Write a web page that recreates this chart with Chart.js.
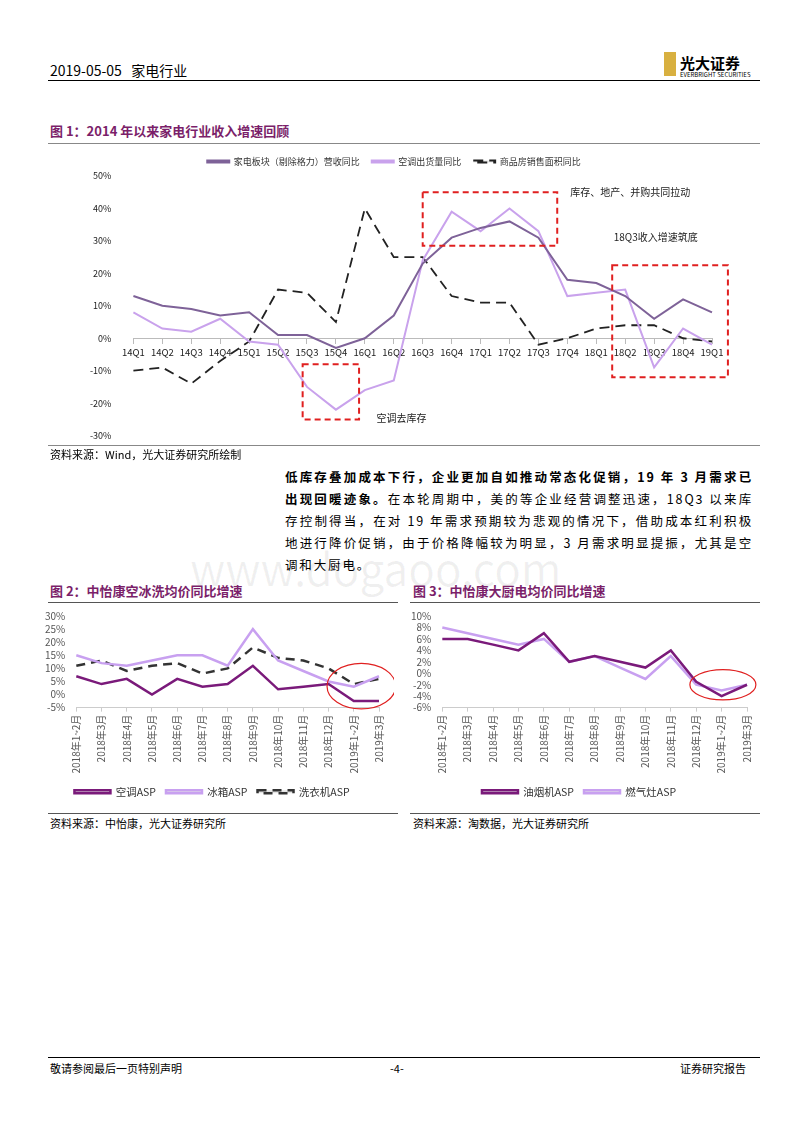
<!DOCTYPE html>
<html><head><meta charset="utf-8">
<script src="https://cdn.jsdelivr.net/npm/chart.js@4"></script>
<style>
body{margin:0;width:800px;height:1132px;position:relative;font-family:"Noto Sans CJK SC","Noto Sans",sans-serif;background:#fff;color:#000}
.a{position:absolute;white-space:nowrap}
.hr{position:absolute;height:0;border-top:1px solid #333}
.t{color:#7B1F6A;font-weight:bold;font-size:13px}
.src{font-size:11px}
.p{font-size:12.5px;line-height:22px;letter-spacing:1.85px}
</style></head><body>
<div class="a" style="left:50px;top:60px;font-size:14px">2019-05-05&nbsp;&nbsp;&nbsp;家电行业</div>
<div class="a" style="left:664px;top:52px;width:12px;height:24px;background:#d8b040"></div>
<div class="a" style="left:680px;top:52px;font-size:15px;font-weight:bold">光大证券</div>
<div class="a" style="left:680px;top:70px;font-size:6px">EVERBRIGHT SECURITIES</div>
<div class="hr" style="left:48px;top:80px;width:712px;border-top:1px solid #000"></div>
<div class="a t" style="left:50px;top:121px">图 1：2014 年以来家电行业收入增速回顾</div>
<div class="hr" style="left:48px;top:143px;width:712px;border-color:#888"></div>
<div class="hr" style="left:48px;top:445px;width:712px;border-color:#888"></div>
<div class="a" style="left:50px;top:145px;width:710px;height:310px"><canvas id="c1"></canvas></div>
<div class="a src" style="left:50px;top:446px">资料来源：Wind，光大证券研究所绘制</div>
<div class="a p" style="left:285px;top:466px;width:468px;white-space:normal;text-align:justify"><b>低库存叠加成本下行，企业更加自如推动常态化促销，19 年 3 月需求已出现回暖迹象。</b>在本轮周期中，美的等企业经营调整迅速，18Q3 以来库存控制得当，在对 19 年需求预期较为悲观的情况下，借助成本红利积极地进行降价促销，由于价格降幅较为明显，3 月需求明显提振，尤其是空调和大厨电。</div>
<div class="a" style="left:190px;top:535px;font-size:44px;color:rgba(0,0,0,0.06)">www.dogaoo.com</div>
<div class="a t" style="left:50px;top:581px">图 2：中怡康空冰洗均价同比增速</div>
<div class="a t" style="left:413px;top:581px">图 3：中怡康大厨电均价同比增速</div>
<div class="hr" style="left:48px;top:602px;width:350px;border-color:#555"></div>
<div class="hr" style="left:410px;top:602px;width:350px;border-color:#555"></div>
<div class="a" style="left:42px;top:607px;width:352px;height:200px"><canvas id="c2"></canvas></div>
<div class="a" style="left:408px;top:607px;width:354px;height:200px"><canvas id="c3"></canvas></div>
<div class="hr" style="left:48px;top:813px;width:350px;border-color:#555"></div>
<div class="hr" style="left:410px;top:813px;width:350px;border-color:#555"></div>
<div class="a src" style="left:50px;top:815px">资料来源：中怡康，光大证券研究所</div>
<div class="a src" style="left:413px;top:815px">资料来源：淘数据，光大证券研究所</div>
<div class="hr" style="left:48px;top:1057px;width:712px;border-color:#000"></div>
<div class="a src" style="left:50px;top:1060px">敬请参阅最后一页特别声明</div>
<div class="a src" style="left:390px;top:1060px">-4-</div>
<div class="a src" style="left:680px;top:1060px">证券研究报告</div>
<script>
const quarters=['14Q1','14Q2','14Q3','14Q4','15Q1','15Q2','15Q3','15Q4','16Q1','16Q2','16Q3','16Q4','17Q1','17Q2','17Q3','17Q4','18Q1','18Q2','18Q3','18Q4','19Q1'];
const revenueYoY=[13,10,9,7,8,1,1,-3,0,7,23,31,34,36,31,18,17,13,6,12,8];
const acShipYoY=[8,3,2,6,-1,-2,-15,-22,-16,-13,24,39,33,40,33,13,14,15,-9,3,-2];
const housingYoY=[-10,-9,-14,-7,-1,15,14,5,40,25,25,13,11,11,-2,0,3,4,4,0,-1];
const months=['2018年1~2月','2018年3月','2018年4月','2018年5月','2018年6月','2018年7月','2018年8月','2018年9月','2018年10月','2018年11月','2018年12月','2019年1~2月','2019年3月'];
const acASP=[7,4,6,0,6,3,4,11,2,3,4,-2.5,-2.5];
const fridgeASP=[15,12,11,13,15,15,11,25,13,9,5,3,7];
const washerASP=[11,13,9,11,12,8,10,18,14,13,10,4,6];
const hoodASP=[6,6,5,4,7,2,3,2,1,4,-1.5,-4,-2];
const stoveASP=[8,7,6,5,6,2,3,1,-1,3,-2,-3,-2];

const F='"Noto Sans CJK SC","Noto Sans",sans-serif';
Chart.defaults.font.family=F;Chart.defaults.color='#333';
const pct=v=>v+'%';
function shapes(boxes,texts,ellipses){return{id:'shapes',afterDatasetsDraw(ch){const c=ch.ctx,x=ch.scales.x,y=ch.scales.y;c.save();
(boxes||[]).forEach(b=>{c.strokeStyle='#e02020';c.lineWidth=2;c.setLineDash([6,4]);const x1=x.getPixelForValue(b[0]),x2=x.getPixelForValue(b[1]),y1=y.getPixelForValue(b[2]),y2=y.getPixelForValue(b[3]);c.strokeRect(x1,y1,x2-x1,y2-y1);});
c.setLineDash([]);
(texts||[]).forEach(t=>{c.fillStyle='#222';c.font='10px '+F;c.fillText(t[2],x.getPixelForValue(t[0]),y.getPixelForValue(t[1]));});
(ellipses||[]).forEach(e=>{c.strokeStyle='#e02020';c.lineWidth=1.2;c.beginPath();const cx=x.getPixelForValue(e[0]),cy=y.getPixelForValue(e[1]);c.ellipse(cx,cy,Math.abs(x.getPixelForValue(e[0]+e[2])-cx),Math.abs(y.getPixelForValue(e[1]+e[3])-cy),0,0,Math.PI*2);c.stroke();});
c.restore();}}}

new Chart(document.getElementById('c1'),{type:'line',
data:{labels:quarters,datasets:[
{label:'家电板块（剔除格力）营收同比',data:revenueYoY,borderColor:'#7E6298',borderWidth:2},
{label:'空调出货量同比',data:acShipYoY,borderColor:'#C9A2EC',borderWidth:2},
{label:'商品房销售面积同比',data:housingYoY,borderColor:'#222',borderWidth:1.8,borderDash:[10,6]}]},
options:{responsive:true,maintainAspectRatio:false,animation:false,elements:{point:{radius:0},line:{tension:0}},
layout:{padding:{left:26,right:48,top:0,bottom:0}},
plugins:{legend:{labels:{boxWidth:22,boxHeight:2,font:{size:9},padding:12}},tooltip:{enabled:false}},
scales:{x:{position:{y:0},grid:{drawOnChartArea:false,tickLength:5,color:'#bbb'},border:{color:'#bbb'},ticks:{font:{size:9.5},color:'#222',maxRotation:0,autoSkip:false}},
y:{min:-30,max:50,ticks:{stepSize:10,callback:pct,font:{size:9},color:'#222',padding:14},grid:{display:false},border:{display:false}}}},
plugins:[shapes([[5.85,7.8,-8,-25],[10,14.65,45,28.5],[16.55,20.55,22.5,-12]],[[15.1,45,'库存、地产、并购共同拉动'],[16.6,31,'18Q3收入增速筑底'],[8.4,-24.5,'空调去库存']],[])]});

function small(id,labels,ds,ymin,ymax,step,ell){
new Chart(document.getElementById(id),{type:'line',data:{labels,datasets:ds},
options:{responsive:true,maintainAspectRatio:false,animation:false,elements:{point:{radius:0},line:{tension:0}},
layout:{padding:{right:12}},
plugins:{legend:{position:'bottom',labels:{boxWidth:36,boxHeight:3,font:{size:10.5},padding:10}},tooltip:{enabled:false}},
scales:{x:{grid:{drawOnChartArea:false,tickLength:4,color:'#ccc'},border:{color:'#ccc'},ticks:{font:{size:10},color:'#555',minRotation:90,maxRotation:90,autoSkip:false}},
y:{min:ymin,max:ymax,ticks:{stepSize:step,autoSkip:false,callback:pct,font:{size:10},color:'#555'},grid:{display:false},border:{display:false}}}},
plugins:[shapes([],[],[ell])]});}
small('c2',months,[
{label:'空调ASP',data:acASP,borderColor:'#7A1A7A',borderWidth:2.5},
{label:'冰箱ASP',data:fridgeASP,borderColor:'#C8A0F0',borderWidth:2.5},
{label:'洗衣机ASP',data:washerASP,borderColor:'#333',borderWidth:2.5,borderDash:[9,6]}],-5,30,5,[11.3,3.2,1.36,8.7]);
small('c3',months,[
{label:'油烟机ASP',data:hoodASP,borderColor:'#7A1A7A',borderWidth:2.5},
{label:'燃气灶ASP',data:stoveASP,borderColor:'#C8A0F0',borderWidth:2.5}],-6,10,2,[11.05,-2,1.3,2.65]);
</script></body></html>
